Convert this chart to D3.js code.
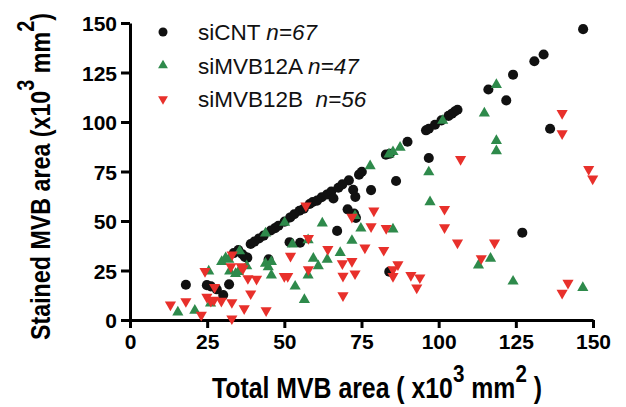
<!DOCTYPE html>
<html>
<head>
<meta charset="utf-8">
<script src="https://cdn.jsdelivr.net/npm/d3@7"></script>
<style>
  body { margin: 0; background: #fff; }
  text { font-family: "Liberation Sans", Arial, sans-serif; }
</style>
</head>
<body>
<div id="container"></div>
<script>
let w = 626;
let h = 407;

// [total area, stained area]
let cntPoints = [
  [18.1,17.8],[24.9,17.6],[28.1,15.5],[30.2,12.6],[32.1,18.0],[35.1,35.3],[37.2,31.9],
  [39.1,38.4],[41.8,41.2],[43.3,42.6],[44.9,30.6],[47.0,46.4],[48.1,47.6],[50.1,49.7],
  [51.9,51.8],[51.7,39.3],[55.1,39.0],[54.9,55.2],[56.3,56.2],[58.2,58.6],[59.2,59.6],
  [62.1,62.0],[63.8,63.4],[65.2,64.9],[65.9,61.4],[67.5,66.8],[67.1,45.0],[70.9,70.5],
  [70.5,55.9],[72.3,65.8],[73.0,62.2],[73.2,51.6],[74.2,73.4],[75.1,74.9],[78.1,65.6],
  [82.9,83.5],[86.2,70.2],[84.0,24.4],[89.9,90.0],[95.9,95.8],[96.8,96.6],[96.8,81.8],
  [100.9,100.8],[103.2,103.1],[104.3,104.2],[105.2,105.3],[106.1,106.2],[116.1,116.4],
  [121.9,110.9],[124.1,123.9],[131.0,130.7],[134.0,134.1],[146.8,146.9],[136.1,96.6],
  [127.1,44.1],[72.6,53.8],[40.3,39.6],[45.6,45.2],[53.2,53.4],[60.6,60.3],[68.8,68.5],
  [98.8,98.6],[84.2,84.0],[36.4,33.2],[26.2,17.0],[38.0,31.5],[33.6,33.8]
];

let aPoints = [
  [15.5,3.9],[21.0,4.8],[25.5,24.6],[26.1,8.5],[29.7,29.4],[31.0,31.4],[32.3,24.6],
  [34.2,23.4],[35.1,24.3],[35.5,34.8],[37.8,27.3],[43.9,43.8],[43.9,28.5],[44.8,26.8],
  [45.8,29.4],[45.8,22.6],[50.1,49.2],[52.6,38.2],[53.5,17.0],[56.5,10.2],[57.7,40.4],
  [57.7,22.6],[59.4,31.1],[61.0,27.3],[62.3,48.9],[63.9,30.6],[68.1,34.0],[71.9,40.1],
  [72.9,52.6],[74.8,46.3],[77.8,77.8],[83.9,83.7],[85.2,84.9],[85.2,45.8],[87.5,87.1],
  [96.8,74.7],[97.2,59.6],[101.3,100.7],[112.9,27.7],[114.8,104.4],[116.8,31.1],
  [118.7,118.8],[118.7,90.5],[118.7,85.4],[124.1,19.5],[146.7,16.3],[32.0,30.5]
];

let bPoints = [
  [13.1,7.7],[18.1,9.4],[23.1,2.5],[24.3,24.6],[24.9,11.6],[26.2,9.6],[27.2,10.1],
  [27.4,16.5],[33.0,8.9],[33.0,0.7],[33.1,33.0],[32.7,27.0],[36.0,27.0],[37.0,5.8],
  [38.2,21.0],[39.1,13.3],[41.0,20.7],[44.1,4.8],[50.0,22.1],[51.1,22.1],[52.0,32.3],
  [57.0,57.7],[57.8,41.3],[57.8,25.5],[64.1,35.7],[68.8,28.5],[69.0,22.2],[69.0,12.4],
  [71.9,52.0],[71.9,29.7],[72.9,23.4],[76.1,36.5],[78.1,47.2],[79.0,55.2],[82.2,35.3],
  [83.0,46.3],[85.2,25.5],[85.2,22.1],[86.8,28.0],[91.0,22.6],[92.9,16.3],[93.9,21.4],
  [107.1,81.2],[101.9,56.0],[101.9,46.7],[106.1,39.0],[113.8,31.1],[118.1,39.0],
  [140.0,104.4],[140.0,94.2],[140.0,13.6],[141.9,18.7],[148.6,76.1],[149.9,71.3],
  [29.6,9.6],[36.6,26.0]
];

let xTicks = [0, 25, 50, 75, 100, 125, 150];
let yTicks = [0, 25, 50, 75, 100, 125, 150];

let seriesNames = ['siCNT', 'siMVB12A', 'siMVB12B'];
let seriesCounts = ['n=67', 'n=47', 'n=56'];
let seriesGaps = [' ', ' ', '  '];
let seriesColors = ['#111111', '#2e8a4b', '#e8302b'];

let viz = d3.select('#container')
  .append('svg')
    .attr('width', w)
    .attr('height', h)
    .style('background-color', 'white');

let xScale = d3.scaleLinear().domain([0, 150]).range([130, 593]);
let yScale = d3.scaleLinear().domain([0, 150]).range([320, 23]);

let xAxis = d3.axisBottom(xScale).tickValues(xTicks).tickSize(8).tickSizeOuter(0).tickPadding(6);
let yAxis = d3.axisLeft(yScale).tickValues(yTicks).tickSize(9).tickSizeOuter(0).tickPadding(4);

let xAxisGroup = viz.append('g').attr('class', 'xaxis')
  .attr('transform', 'translate(0,' + yScale(0) + ')')
  .call(xAxis);
let yAxisGroup = viz.append('g').attr('class', 'yaxis')
  .attr('transform', 'translate(' + xScale(0) + ',0)')
  .call(yAxis);

viz.selectAll('.xaxis path, .yaxis path, .xaxis line, .yaxis line')
  .attr('stroke', '#000')
  .attr('stroke-width', 3);
viz.selectAll('.xaxis text, .yaxis text')
  .attr('fill', '#000')
  .style('font-size', '21px')
  .style('font-weight', 'bold');
yAxisGroup.selectAll('text').attr('dy', '0.36em');

// symbols
let circle = d3.symbol().type(d3.symbolCircle).size(80);
let tri = d3.symbol().type(d3.symbolTriangle).size(54);

viz.append('g').selectAll('path')
  .data(cntPoints).enter().append('path')
    .attr('d', circle)
    .attr('fill', seriesColors[0])
    .attr('transform', d => 'translate(' + xScale(d[0]) + ',' + yScale(d[1]) + ')');

viz.append('g').selectAll('path')
  .data(aPoints).enter().append('path')
    .attr('d', tri)
    .attr('fill', seriesColors[1])
    .attr('transform', d => 'translate(' + xScale(d[0]) + ',' + yScale(d[1]) + ')');

viz.append('g').selectAll('path')
  .data(bPoints).enter().append('path')
    .attr('d', tri)
    .attr('fill', seriesColors[2])
    .attr('transform', d => 'translate(' + xScale(d[0]) + ',' + yScale(d[1]) + ') rotate(180)');

// legend
let legend = viz.append('g').attr('transform', 'translate(163,32)');
seriesNames.forEach(function(name, i){
  let row = legend.append('g').attr('transform', 'translate(0,' + (i * 33.5) + ')');
  let sym = i == 0 ? d3.symbol().type(d3.symbolCircle).size(64)() : d3.symbol().type(d3.symbolTriangle).size(42)();
  row.append('path').attr('d', sym).attr('fill', seriesColors[i])
    .attr('transform', i == 2 ? 'rotate(180)' : null);
  let t = row.append('text')
    .attr('x', 35).attr('y', 8)
    .style('font-size', '22.5px')
    .style('white-space', 'pre')
    .attr('fill', '#111');
  t.append('tspan').text(name + seriesGaps[i]);
  t.append('tspan').style('font-style', 'italic').text(seriesCounts[i]);
});

// axis titles
let titleFont = '"Liberation Sans Narrow", "Liberation Sans", Arial, sans-serif';

let xTitle = viz.append('text')
  .attr('x', 212).attr('y', 398)
  .attr('textLength', 330).attr('lengthAdjust', 'spacingAndGlyphs')
  .style('font-family', titleFont)
  .style('font-weight', 'bold').style('font-size', '29px')
  .style('white-space', 'pre');
xTitle.append('tspan').text('Total MVB area ( x10');
xTitle.append('tspan').attr('dy', -16).style('font-size', '24px').text('3');
xTitle.append('tspan').attr('dy', 16).text(' mm');
xTitle.append('tspan').attr('dy', -16).style('font-size', '24px').text('2');
xTitle.append('tspan').attr('dy', 16).text(' )');

let yTitle = viz.append('text')
  .attr('transform', 'translate(50,340) rotate(-90)')
  .attr('textLength', 327).attr('lengthAdjust', 'spacingAndGlyphs')
  .style('font-family', titleFont)
  .style('font-weight', 'bold').style('font-size', '28px')
  .style('white-space', 'pre');
yTitle.append('tspan').text('Stained MVB area (x10');
yTitle.append('tspan').attr('dy', -16).style('font-size', '24px').text('3');
yTitle.append('tspan').attr('dy', 16).text(' mm');
yTitle.append('tspan').attr('dy', -16).style('font-size', '24px').text('2');
yTitle.append('tspan').attr('dy', 16).text(')');
</script>
</body>
</html>
